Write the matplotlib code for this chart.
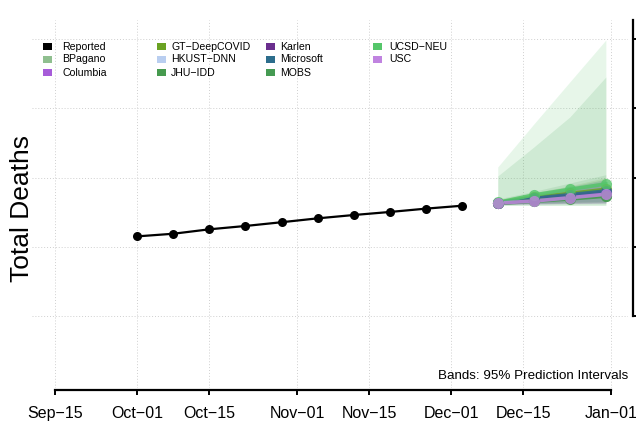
import matplotlib
matplotlib.use("Agg")
import matplotlib.pyplot as plt
import matplotlib.dates as mdates
from matplotlib.patches import Rectangle
import numpy as np
import datetime as dt

plt.rcParams['font.family'] = ['Liberation Sans', 'DejaVu Sans']

# ---------------- data ----------------
reported_dates = ["2020-10-01", "2020-10-08", "2020-10-15", "2020-10-22", "2020-10-29",
                  "2020-11-05", "2020-11-12", "2020-11-19", "2020-11-26", "2020-12-03"]
reported_values = [207.5, 209.4, 212.6, 215.0, 217.7, 220.5, 222.9, 225.1, 227.5, 229.6]  # thousands

forecast_dates = ["2020-12-10", "2020-12-17", "2020-12-24", "2020-12-31"]

models = ["BPagano", "Columbia", "GT\u2212DeepCOVID", "HKUST\u2212DNN", "JHU\u2212IDD",
          "Karlen", "Microsoft", "MOBS", "UCSD\u2212NEU", "USC"]
model_colors = ["#8fbf8f", "#a75cd9", "#6aa222", "#b9cef0", "#469a4e",
                "#6a2e8e", "#2c6d8c", "#459a52", "#55c66a", "#c083e0"]

pt_BPagano   = [231.8, 234.8, 237.8, 240.8]
pt_Columbia  = [231.6, 234.0, 236.3, 238.8]
pt_GT        = [231.9, 235.8, 238.5, 241.5]
pt_HKUST     = [231.5, 234.2, 236.8, 239.3]
pt_JHU       = [231.3, 232.8, 234.5, 236.5]
pt_Karlen    = [231.7, 234.5, 237.0, 239.5]
pt_Microsoft = [231.8, 235.0, 237.6, 240.3]
pt_MOBS      = [231.4, 233.3, 235.0, 237.0]
pt_UCSD      = [232.0, 237.4, 241.5, 245.3]
pt_USC       = [231.5, 233.0, 235.4, 237.9]

lo_BPagano   = [230.6, 231.0, 231.2, 231.4]
hi_BPagano   = [233.5, 238.0, 243.0, 249.0]
lo_Columbia  = [230.5, 230.8, 231.0, 231.2]
hi_Columbia  = [233.2, 237.0, 241.5, 246.0]
lo_GT        = [230.7, 231.5, 232.0, 232.5]
hi_GT        = [233.8, 239.0, 244.0, 250.0]
lo_HKUST     = [230.6, 231.2, 231.6, 232.0]
hi_HKUST     = [233.0, 237.5, 242.0, 247.0]
lo_JHU       = [229.9, 230.0, 230.0, 230.1]
hi_JHU       = [251.1, 272.0, 293.7, 322.6]
lo_Karlen    = [230.6, 231.0, 231.4, 231.8]
hi_Karlen    = [233.3, 237.8, 242.5, 247.5]
lo_Microsoft = [230.8, 231.6, 232.2, 232.8]
hi_Microsoft = [233.2, 238.0, 243.5, 248.5]
lo_MOBS      = [230.6, 231.2, 231.6, 232.0]
hi_MOBS      = [234.5, 240.0, 246.0, 252.0]
lo_UCSD      = [229.8, 229.8, 229.9, 229.9]
hi_UCSD      = [257.6, 288.6, 319.0, 349.3]
lo_USC       = [230.4, 230.8, 231.2, 231.6]
hi_USC       = [233.0, 236.0, 240.0, 244.0]

points = [pt_BPagano, pt_Columbia, pt_GT, pt_HKUST, pt_JHU, pt_Karlen,
          pt_Microsoft, pt_MOBS, pt_UCSD, pt_USC]
lows = [lo_BPagano, lo_Columbia, lo_GT, lo_HKUST, lo_JHU, lo_Karlen,
        lo_Microsoft, lo_MOBS, lo_UCSD, lo_USC]
highs = [hi_BPagano, hi_Columbia, hi_GT, hi_HKUST, hi_JHU, hi_Karlen,
         hi_Microsoft, hi_MOBS, hi_UCSD, hi_USC]

x_tick_dates = ["2020-09-15", "2020-10-01", "2020-10-15", "2020-11-01", "2020-11-15",
                "2020-12-01", "2020-12-15", "2021-01-01"]
x_tick_labels = ["Sep\u221215", "Oct\u221201", "Oct\u221215", "Nov\u221201", "Nov\u221215",
                 "Dec\u221201", "Dec\u221215", "Jan\u221201"]
y_ticks = [150, 200, 250, 300, 350]

# ---------------- plot ----------------
def d2n(s):
    return mdates.date2num(dt.datetime.strptime(s, "%Y-%m-%d"))

W, H = 636, 423
fig = plt.figure(figsize=(W / 100, H / 100), dpi=100)
ax_l, ax_r, ax_t, ax_b = 32, 628, 20, 388
ax = fig.add_axes([ax_l / W, 1 - ax_b / H, (ax_r - ax_l) / W, (ax_b - ax_t) / H])

xr = [d2n(s) for s in reported_dates]
xf = [d2n(s) for s in forecast_dates]
xt = [d2n(s) for s in x_tick_dates]

ax.set_xlim(xt[0] - 4.47, xt[-1] + 3.3)
px_per_k = 69.25 / 50.0
ax.set_ylim(150 - 72 / px_per_k, 350 + 19 / px_per_k)

# grid
for x in xt:
    ax.axvline(x, color="#cfcfcf", lw=0.7, ls=(0, (1, 2)), zorder=0)
for y in y_ticks:
    ax.axhline(y, color="#cfcfcf", lw=0.7, ls=(0, (1, 2)), zorder=0)

# bands
for lo, hi, c in zip(lows, highs, model_colors):
    ax.fill_between(xf, lo, hi, color=c, alpha=0.14, lw=0, zorder=1)

# forecast lines/points
for pts, c in zip(points, model_colors):
    ax.plot(xf, pts, color=c, lw=2.6, alpha=0.85, zorder=3)
    ax.plot(xf, pts, 'o', color=c, ms=8, alpha=0.8, mec='none', zorder=4)

# reported
ax.plot(xr, reported_values, color="black", lw=1.6, zorder=5)
ax.plot(xr, reported_values, 'o', color="black", ms=6.5, mec='none', zorder=6)

# axes styling
for s in ["top", "left"]:
    ax.spines[s].set_visible(False)
ax.spines["bottom"].set_position(("outward", 1.5))
ax.spines["bottom"].set_bounds(xt[0], xt[-1])
ax.spines["bottom"].set_linewidth(1.6)
ax.spines["right"].set_position(("outward", 3.6))
ax.spines["right"].set_bounds(150, ax.get_ylim()[1])
ax.spines["right"].set_linewidth(1.6)

ax.set_xticks(xt)
ax.set_xticklabels(x_tick_labels, fontsize=11.5)
ax.tick_params(axis="x", direction="out", length=3.5, width=1.4, pad=8)
ax.yaxis.tick_right()
ax.set_yticks(y_ticks)
ax.tick_params(axis="y", direction="out", length=4, width=1.4, labelright=False)

fig.text(22 / W, 1 - 208 / H, "Total Deaths", rotation=90, fontsize=19,
         ha="center", va="center")

ax.text(ax_r / W, 1 - 376 / H, "Bands: 95% Prediction Intervals", fontsize=9.6,
        ha="right", va="center", transform=fig.transFigure)

# legend (manual)
legend_labels = ["Reported"] + models
legend_colors = ["#000000"] + model_colors
col_sq_x = [43, 157, 266, 373]
col_tx_x = [62, 171, 280, 389]
row_y = [46.5, 59.5, 72.5]
for i, (lab, c) in enumerate(zip(legend_labels, legend_colors)):
    col, row = divmod(i, 3)
    y = row_y[row]
    fig.add_artist(Rectangle((col_sq_x[col] / W, 1 - (y + 3.5) / H), 9 / W, 7 / H,
                             transform=fig.transFigure, facecolor=c, edgecolor="none"))
    fig.text(col_tx_x[col] / W, 1 - y / H, lab, fontsize=7.6, ha="left", va="center")

fig.savefig("out.png", dpi=100)
